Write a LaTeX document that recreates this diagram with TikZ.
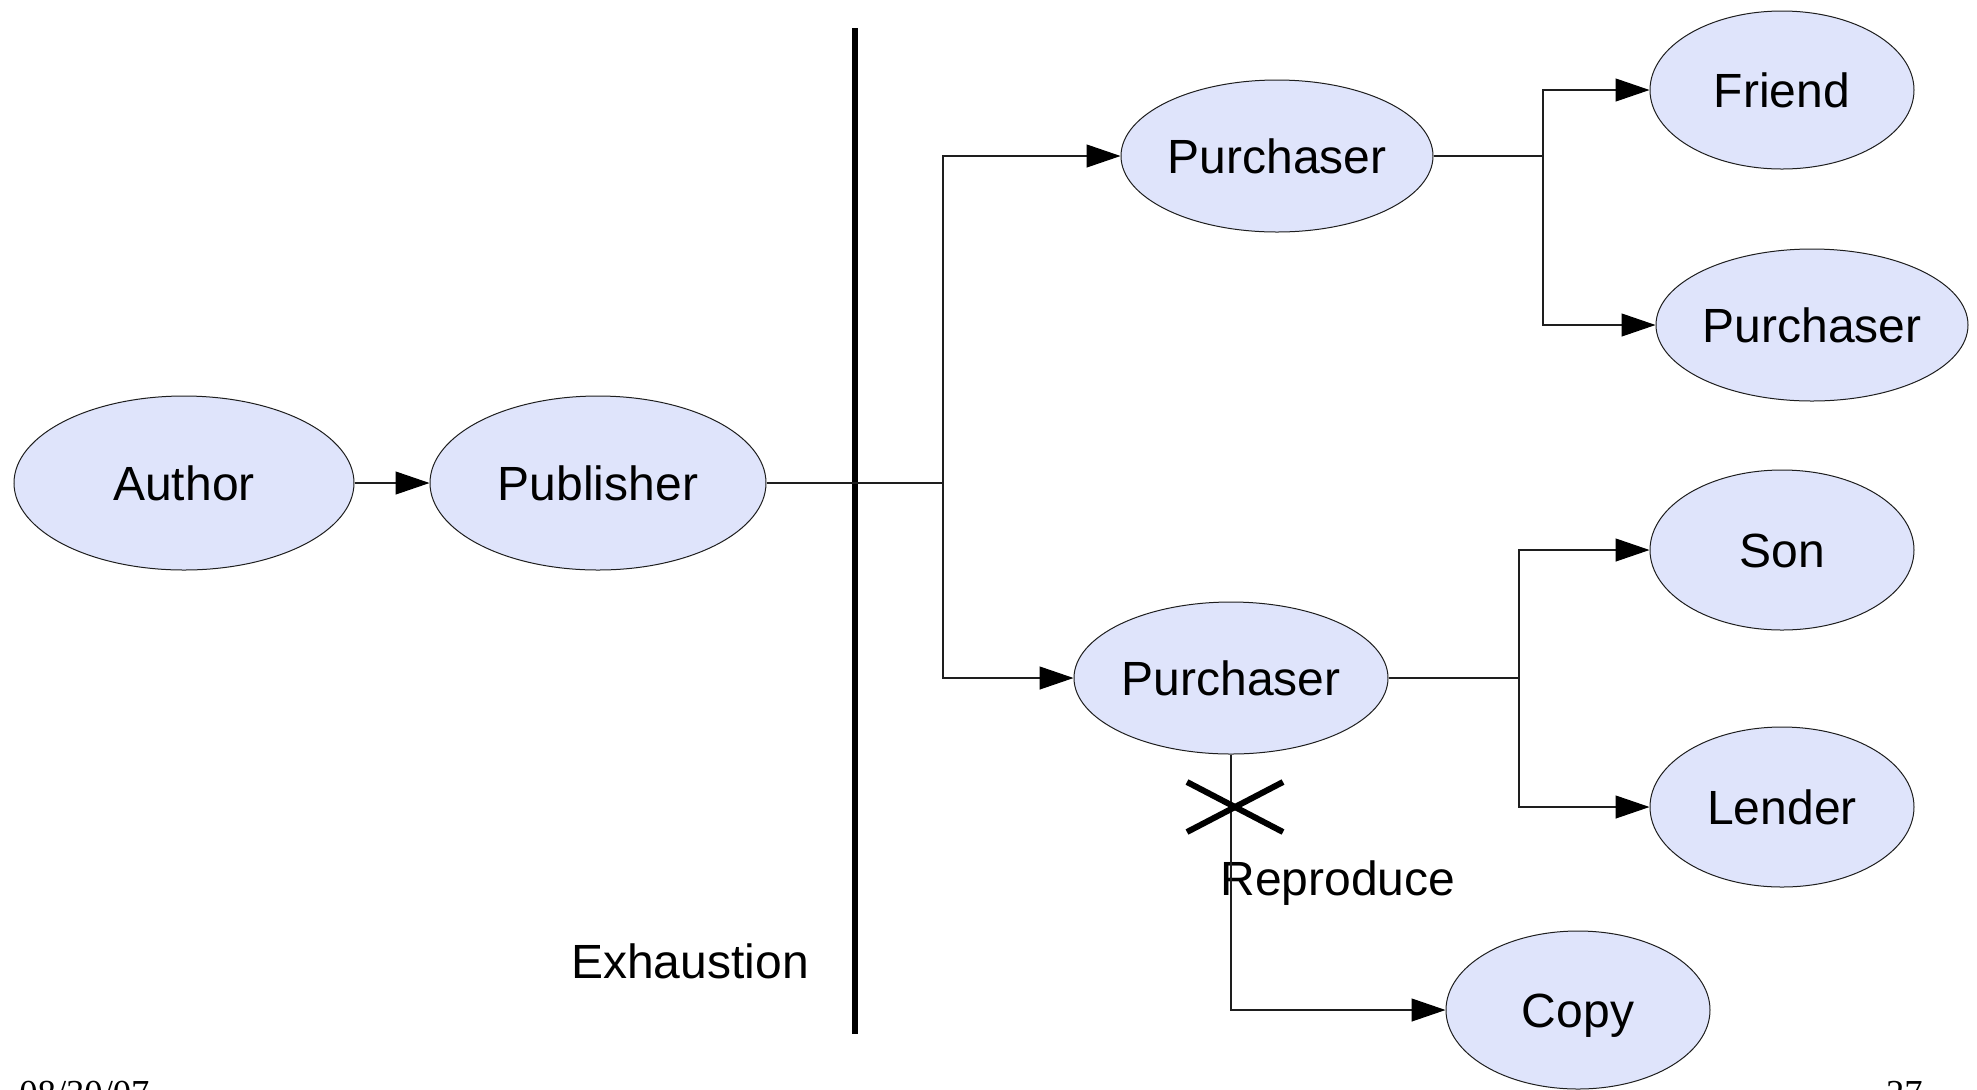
\documentclass[tikz,border=0pt]{standalone}
\usepackage{fontspec}
\setmainfont{Liberation Sans}
\newfontfamily\seriffont{Liberation Serif}
\usetikzlibrary{shapes.geometric,arrows.meta}
\definecolor{ellfill}{RGB}{223,228,251}
\definecolor{lncol}{RGB}{30,30,30}
\tikzset{
  ell/.style={ellipse, draw=lncol, line width=0.5pt, fill=ellfill, inner sep=0pt, text height=17pt, text depth=0pt, font=\fontsize{24}{28}\selectfont},
  conn/.style={draw=lncol, line width=0.6pt},
  arr/.style={conn, -{Triangle[length=17pt,width=11.5pt,color=black]}},
  lbl/.style={font=\fontsize{24}{28}\selectfont, inner sep=0pt},
  small/.style={font=\seriffont\fontsize{18.3}{20}\selectfont, inner sep=0pt},
  bar/.style={line width=3pt, black},
  xline/.style={line width=3pt, black}
}
\begin{document}
\begin{tikzpicture}[x=0.5pt,y=-0.5pt]
\clip (0,0) rectangle (1977,1089);
\fill[white] (0,0) rectangle (1977,1089);
% nodes
\node[ell, minimum width=170pt, minimum height=87pt] (author) at (184,483) {Author};
\node[ell, minimum width=168pt, minimum height=87pt] (pub) at (598,483) {Publisher};
\node[ell, minimum width=156pt, minimum height=76pt] (pt) at (1277,156) {Purchaser};
\node[ell, minimum width=157pt, minimum height=76pt] (pb) at (1231,678) {Purchaser};
\node[ell, minimum width=132pt, minimum height=79pt] (friend) at (1782,90) {Friend};
\node[ell, minimum width=156pt, minimum height=76pt] (pr) at (1812,325) {Purchaser};
\node[ell, minimum width=132pt, minimum height=80pt] (son) at (1782,550) {Son};
\node[ell, minimum width=132pt, minimum height=80pt] (lender) at (1782,807) {Lender};
\node[ell, minimum width=132pt, minimum height=79pt] (copy) at (1578,1010) {Copy};
% labels
\node[lbl] (exh) at (690,961) {Exhaustion};
\node[lbl] (rep) at (1338,883) {Reproduce};
\node[small, anchor=north west] (date) at (19,1081) {08/30/07};
\node[small, anchor=north east] (page) at (1923,1081) {27};
% thick bar
\coordinate (bartop) at (855,28);
\coordinate (barbot) at (855,1034);
\draw[bar] (bartop) -- (barbot);
% connectors
\draw[arr] (author.east) -- (pub.west);
\coordinate (jA) at (943,483);
\draw[conn] (pub.east) -- (jA);
\draw[arr] (jA) |- (pt.west);
\draw[arr] (jA) |- (pb.west);
\coordinate (jB) at (1543,156);
\draw[conn] (pt.east) -- (jB);
\draw[arr] (jB) |- (friend.west);
\draw[arr] (jB) |- (pr.west);
\coordinate (jC) at (1519,678);
\draw[conn] (pb.east) -- (jC);
\draw[arr] (jC) |- (son.west);
\draw[arr] (jC) |- (lender.west);
\draw[arr] (pb.south) |- (copy.west);
% cross mark
\coordinate (xmark) at (1235,807);
\draw[xline] ([shift={(-48,-25)}]xmark) -- ([shift={(48,25)}]xmark);
\draw[xline] ([shift={(-48,25)}]xmark) -- ([shift={(48,-25)}]xmark);
\end{tikzpicture}
\end{document}
